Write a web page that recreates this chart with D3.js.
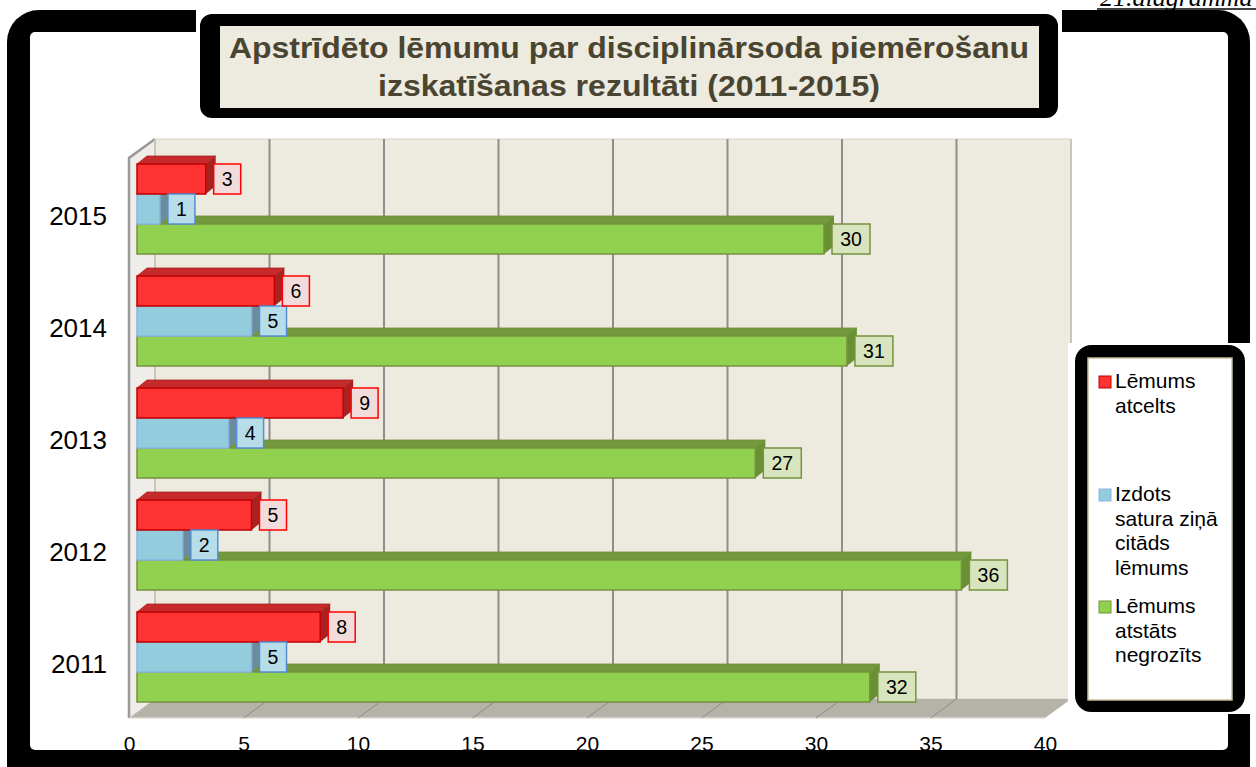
<!DOCTYPE html>
<html>
<head>
<meta charset="utf-8">
<script src="https://cdn.jsdelivr.net/npm/d3@7"></script>
<style>
  body { margin: 0; background: #fff; }
  svg { display: block; }
  text { font-family: "Liberation Sans", Arial, sans-serif; }
</style>
</head>
<body>
<script>
'use strict';

// chart data
const years = ['2015', '2014', '2013', '2012', '2011'];
const atcelts = [3, 6, 9, 5, 8];
const citads = [1, 5, 4, 2, 5];
const negrozits = [30, 31, 27, 36, 32];
const xTicks = [0, 5, 10, 15, 20, 25, 30, 35, 40];
const legendLabels = [
  ['Lēmums', 'atcelts'],
  ['Izdots', 'satura ziņā', 'citāds', 'lēmums'],
  ['Lēmums', 'atstāts', 'negrozīts']
];

(function() {

  const svg = d3.select('body')
    .append('svg')
    .attr('width', 1256)
    .attr('height', 767);

  // page caption above the frame (cut at the top, as in the source)
  svg.append('text')
    .attr('x', 1100)
    .attr('y', 6)
    .style('font-family', '"Liberation Serif", "Times New Roman", serif')
    .style('font-style', 'italic')
    .style('font-size', '26px')
    .text('21.diagramma');
  svg.append('line')
    .attr('x1', 1097).attr('x2', 1256)
    .attr('y1', 9).attr('y2', 9)
    .attr('stroke', '#000')
    .attr('stroke-width', 1.5);

  // outer black frame
  svg.append('rect')
    .attr('x', 7).attr('y', 10)
    .attr('width', 1243).attr('height', 800)
    .attr('rx', 32)
    .attr('fill', '#000');
  svg.append('rect')
    .attr('x', 30).attr('y', 32)
    .attr('width', 1198).attr('height', 718)
    .attr('rx', 5)
    .attr('fill', '#fff');

  // title box
  svg.append('rect')
    .attr('x', 196).attr('y', 9)
    .attr('width', 866).attr('height', 112)
    .attr('fill', '#fff');
  svg.append('rect')
    .attr('x', 200).attr('y', 14)
    .attr('width', 858).attr('height', 104)
    .attr('rx', 12)
    .attr('fill', '#000');
  svg.append('rect')
    .attr('x', 220).attr('y', 26)
    .attr('width', 819).attr('height', 82)
    .attr('fill', '#edeae0');
  svg.append('text')
    .attr('x', 629).attr('y', 58)
    .attr('text-anchor', 'middle')
    .attr('textLength', 800)
    .attr('lengthAdjust', 'spacingAndGlyphs')
    .style('font-size', '30px')
    .style('font-weight', 'bold')
    .attr('fill', '#4a4530')
    .text('Apstrīdēto lēmumu par disciplinārsoda piemērošanu');
  svg.append('text')
    .attr('x', 629).attr('y', 96)
    .attr('text-anchor', 'middle')
    .attr('textLength', 502)
    .attr('lengthAdjust', 'spacingAndGlyphs')
    .style('font-size', '30px')
    .style('font-weight', 'bold')
    .attr('fill', '#4a4530')
    .text('izskatīšanas rezultāti (2011-2015)');

  // 3d geometry
  const depthX = 26, depthY = -19;   // wall depth
  const barDX = 10, barDY = -8;      // bar depth
  const floorY = 718, topY = 158;

  const xFront = d3.scaleLinear().domain([0, 40]).range([129, 1045]);
  const xBack = d3.scaleLinear().domain([0, 40]).range([129 + depthX, 1045 + depthX]);
  const xBar = d3.scaleLinear().domain([0, 40]).range([137, 1053]);
  const y = d3.scalePoint().domain(years).range([216, 664]);

  const plot = svg.append('g');

  // back wall
  plot.append('rect')
    .attr('x', xBack(0)).attr('y', topY + depthY)
    .attr('width', xBack(40) - xBack(0))
    .attr('height', floorY - topY)
    .attr('fill', '#edeae0')
    .attr('stroke', '#d6d2c4')
    .attr('stroke-width', 1);

  // left wall
  plot.append('polygon')
    .attr('points', [
      [xFront(0), topY], [xBack(0), topY + depthY],
      [xBack(0), floorY + depthY], [xFront(0), floorY]
    ].join(' '))
    .attr('fill', '#efede7');
  plot.append('path')
    .attr('d', `M${xFront(0)},${floorY} L${xFront(0)},${topY} L${xBack(0)},${topY + depthY}`)
    .attr('fill', 'none')
    .attr('stroke', '#999')
    .attr('stroke-width', 2.5);

  // floor
  plot.append('polygon')
    .attr('points', [
      [xBack(0), floorY + depthY], [xBack(40), floorY + depthY],
      [xFront(40), floorY], [xFront(0), floorY]
    ].join(' '))
    .attr('fill', '#b5b2aa');
  plot.append('line')
    .attr('x1', xFront(0)).attr('x2', xFront(40))
    .attr('y1', floorY).attr('y2', floorY)
    .attr('stroke', '#dedbd0')
    .attr('stroke-width', 1.5);

  // gridlines on the back wall and floor
  plot.selectAll('.grid')
    .data(xTicks)
    .enter()
    .append('line')
      .attr('class', 'grid')
      .attr('x1', d => xBack(d)).attr('x2', d => xBack(d))
      .attr('y1', topY + depthY).attr('y2', floorY + depthY)
      .attr('stroke', d => (d === 0 || d === 40) ? '#c8c5bb' : '#8e8e8e')
      .attr('stroke-width', 2);
  plot.selectAll('.floorgrid')
    .data(xTicks.filter(d => d > 0 && d < 40))
    .enter()
    .append('line')
      .attr('class', 'floorgrid')
      .attr('x1', d => xBack(d)).attr('x2', d => xFront(d))
      .attr('y1', floorY + depthY).attr('y2', floorY)
      .attr('stroke', '#8f8c86')
      .attr('stroke-width', 1);

  // series styles, drawn bottom bar first so upper bars cover lower tops
  const series = [
    { values: negrozits, off: 8, front: '#92d050', top: '#72993c', side: '#6a9035', edge: '#77933c',
      boxFill: '#d7e4bd', boxStroke: '#77933c' },
    { values: citads, off: -22, front: '#93cddd', top: '#7aa6b4', side: '#6a8d99', edge: '#8db3e2',
      boxFill: '#b7dee8', boxStroke: '#558ed5' },
    { values: atcelts, off: -52, front: '#ff3333', top: '#c62a2a', side: '#a82222', edge: '#c00000',
      boxFill: '#f2dcdb', boxStroke: '#ff0000' }
  ];
  const barH = 30;

  series.forEach(s => {
    years.forEach((yr, i) => {
      const v = s.values[i];
      const x0 = xBar(0), x1 = xBar(v);
      const yT = y(yr) + s.off;
      const g = plot.append('g');
      // top face
      g.append('polygon')
        .attr('points', [[x0, yT], [x0 + barDX, yT + barDY], [x1 + barDX, yT + barDY], [x1, yT]].join(' '))
        .attr('fill', s.top)
        .attr('stroke', s.side)
        .attr('stroke-width', 0.8);
      // side face
      g.append('polygon')
        .attr('points', [[x1, yT], [x1 + barDX, yT + barDY], [x1 + barDX, yT + barH + barDY], [x1, yT + barH]].join(' '))
        .attr('fill', s.side);
      // front face
      g.append('rect')
        .attr('x', x0).attr('y', yT)
        .attr('width', x1 - x0).attr('height', barH)
        .attr('fill', s.front)
        .attr('stroke', s.edge)
        .attr('stroke-width', 1.5);
    });
  });

  // value labels
  series.forEach(s => {
    years.forEach((yr, i) => {
      const v = s.values[i];
      const txt = String(v);
      const w = txt.length === 1 ? 27 : 38;
      const bx = xBar(v) + 8;
      const yT = y(yr) + s.off;
      plot.append('rect')
        .attr('x', bx).attr('y', yT)
        .attr('width', w).attr('height', barH)
        .attr('fill', s.boxFill)
        .attr('stroke', s.boxStroke)
        .attr('stroke-width', 1.5);
      plot.append('text')
        .attr('x', bx + w / 2).attr('y', yT + 22)
        .attr('text-anchor', 'middle')
        .style('font-size', '19.5px')
        .attr('fill', '#000')
        .text(txt);
    });
  });

  // axes
  const xAxis = d3.axisBottom(xFront).tickValues(xTicks).tickSize(0).tickPadding(0);
  const gx = svg.append('g')
    .attr('transform', 'translate(0, 736)')
    .call(xAxis);
  gx.select('.domain').remove();
  gx.selectAll('text')
    .style('font-size', '21px')
    .style('font-family', '"Liberation Sans", Arial, sans-serif')
    .attr('fill', '#000');

  const yAxis = d3.axisLeft(y).tickSize(0).tickPadding(0);
  const gy = svg.append('g')
    .attr('transform', 'translate(107, 0)')
    .call(yAxis);
  gy.select('.domain').remove();
  gy.selectAll('text')
    .style('font-size', '26px')
    .style('font-family', '"Liberation Sans", Arial, sans-serif')
    .attr('fill', '#000');

  // legend
  svg.append('rect')
    .attr('x', 1068).attr('y', 343)
    .attr('width', 184).attr('height', 371)
    .attr('fill', '#fff');
  svg.append('rect')
    .attr('x', 1081.5).attr('y', 351.5)
    .attr('width', 157).attr('height', 354)
    .attr('rx', 10)
    .attr('fill', '#fff')
    .attr('stroke', '#000')
    .attr('stroke-width', 13);
  svg.append('rect')
    .attr('x', 1088).attr('y', 358)
    .attr('width', 144).attr('height', 342)
    .attr('fill', '#fff')
    .attr('stroke', '#c4bd97')
    .attr('stroke-width', 1.5);

  const legendColors = [
    { fill: '#ff3333', stroke: '#c00000' },
    { fill: '#93cddd', stroke: '#8db3e2' },
    { fill: '#92d050', stroke: '#77933c' }
  ];
  const legendTop = [388, 501, 613];
  legendLabels.forEach((lines, k) => {
    svg.append('rect')
      .attr('x', 1099).attr('y', legendTop[k] - 12)
      .attr('width', 12).attr('height', 12)
      .attr('fill', legendColors[k].fill)
      .attr('stroke', legendColors[k].stroke)
      .attr('stroke-width', 1);
    lines.forEach((line, j) => {
      svg.append('text')
        .attr('x', 1115)
        .attr('y', legendTop[k] + j * 24.5)
        .style('font-size', '21px')
        .attr('fill', '#000')
        .text(line);
    });
  });

})();
</script>
</body>
</html>
